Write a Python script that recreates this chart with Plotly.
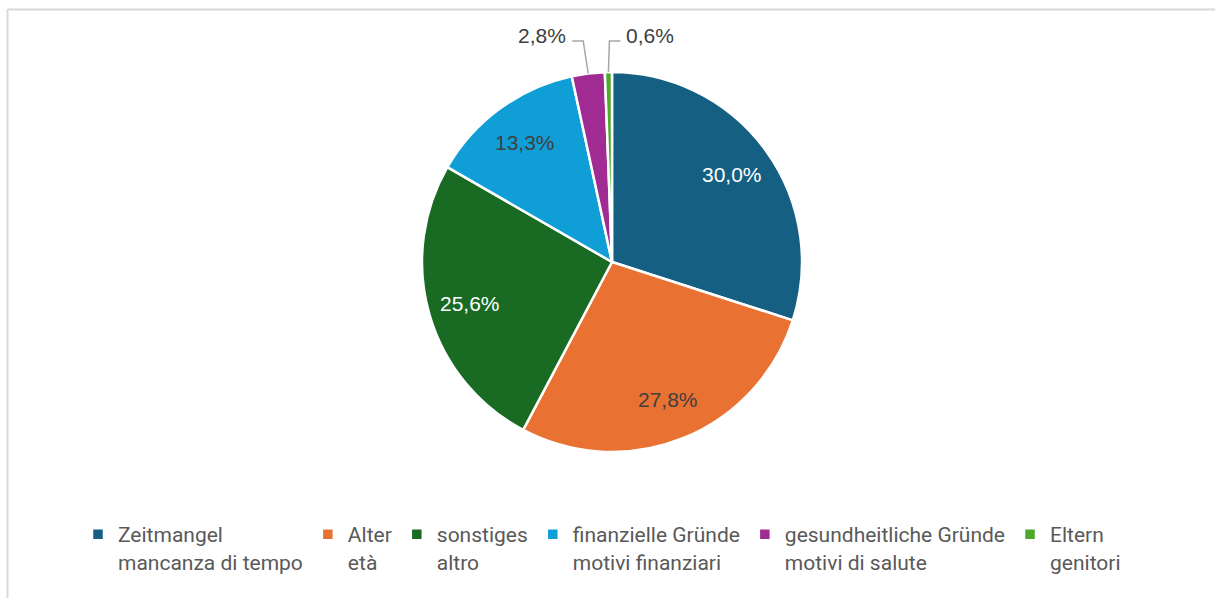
import math
import plotly.graph_objects as go

# Reasons, shares in percent
labels_de = ["Zeitmangel", "Alter", "sonstiges", "finanzielle Gründe",
             "gesundheitliche Gründe", "Eltern"]
labels_it = ["mancanza di tempo", "età", "altro", "motivi finanziari",
             "motivi di salute", "genitori"]
shares = [30.0, 27.8, 25.6, 13.3, 2.8, 0.6]

colors = ["#156082", "#E97132", "#196B24", "#0F9ED5", "#A02B93", "#4EA72E"]
label_colors = ["#FFFFFF", "#404040", "#FFFFFF", "#404040", "#404040", "#404040"]
# which labels sit outside the pie with a leader line, and on which side
callout_side = [None, None, None, None, "left", "right"]

W, H = 1215, 598
CX, CY, R = 612, 262, 190  # pie centre and radius in pixels
LABEL_FONT = dict(family="Liberation Sans, Arial", size=21)


def px(x):
    return x / W


def py(y):
    return 1 - y / H


def fmt(v):
    return f"{v:.1f}".replace(".", ",") + "%"


fig = go.Figure()
fig.add_trace(go.Pie(
    labels=[f"{d}<br>{i}" for d, i in zip(labels_de, labels_it)],
    values=shares,
    sort=False,
    direction="clockwise",
    rotation=0,
    marker=dict(colors=colors, line=dict(color="#FFFFFF", width=2.5)),
    textinfo="none",
    hoverinfo="label+value",
    domain=dict(x=[px(CX - R), px(CX + R)], y=[py(CY + R), py(CY - R)]),
))

# slice labels placed along each slice's mid-angle
total = sum(shares)
annotations = []
shapes = []
cum = 0.0
for v, col, side in zip(shares, label_colors, callout_side):
    mid = (cum + v / 2) / total * 2 * math.pi
    cum += v
    sx, sy = math.sin(mid), -math.cos(mid)
    if side is None:
        r = 0.78 * R
        annotations.append(dict(
            x=px(CX + r * sx), y=py(CY + r * sy), xref="paper", yref="paper",
            xanchor="center", yanchor="middle",
            text=fmt(v), showarrow=False,
            font=dict(**LABEL_FONT, color=col),
        ))
    else:
        ax, ay = CX + R * sx, CY + R * sy
        ey = CY - R - 31
        ex = ax - 5 if side == "left" else ax + 1
        hx = ex - 11 if side == "left" else ex + 11
        shapes.append(dict(
            type="path", xref="paper", yref="paper",
            path=f"M{px(ax)},{py(ay)} L{px(ex)},{py(ey)} L{px(hx)},{py(ey)}",
            line=dict(color="#A6A6A6", width=1.5),
        ))
        annotations.append(dict(
            x=px(hx + (-4 if side == "left" else 4)), y=py(ey - 5),
            xref="paper", yref="paper",
            xanchor="right" if side == "left" else "left", yanchor="middle",
            text=fmt(v), showarrow=False,
            font=dict(**LABEL_FONT, color="#404040"),
        ))

# chart frame (top and left edges)
frame = dict(color="#D9D9D9", width=2)
shapes.append(dict(type="line", xref="paper", yref="paper",
                   x0=px(7.5), x1=1, y0=py(9.5), y1=py(9.5), line=frame))
shapes.append(dict(type="line", xref="paper", yref="paper",
                   x0=px(7.5), x1=px(7.5), y0=py(9.5), y1=0, line=frame))

fig.update_layout(
    width=W, height=H,
    margin=dict(l=0, r=0, t=0, b=0),
    paper_bgcolor="#FFFFFF",
    plot_bgcolor="#FFFFFF",
    showlegend=True,
    legend=dict(
        orientation="h", x=px(78), y=py(514), xanchor="left", yanchor="top",
        font=dict(family="Roboto", size=21, color="#595959"),
        valign="top", itemwidth=30, traceorder="normal",
        bgcolor="rgba(0,0,0,0)",
    ),
    annotations=annotations,
    shapes=shapes,
)

fig.write_html("out.html")
